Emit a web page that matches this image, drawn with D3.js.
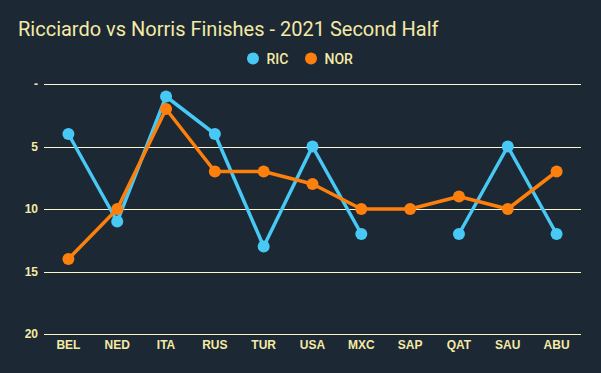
<!DOCTYPE html>
<html>
<head>
<meta charset="utf-8">
<script src="https://cdnjs.cloudflare.com/ajax/libs/d3/7.8.5/d3.min.js"></script>
<style>
  body { margin: 0; background: #1c2834; }
  svg { display: block; }
</style>
</head>
<body>
<div id="chart"></div>
<script>
var races = ["BEL", "NED", "ITA", "RUS", "TUR", "USA", "MXC", "SAP", "QAT", "SAU", "ABU"];
var ric = [4, 11, 1, 4, 13, 5, 12, null, 12, 5, 12];
var nor = [14, 10, 2, 7, 7, 8, 10, 10, 9, 10, 7];
var yTicks = [0, 5, 10, 15, 20];

var series = [
  { name: "RIC", color: "#48c8f4", values: ric },
  { name: "NOR", color: "#fd7f0c", values: nor }
];

var width = 601, height = 373;
var margin = { top: 84, left: 44, bottom: 39, right: 20 };
var textColor = "#f4eaa6";

var svg = d3.select("#chart").append("svg")
  .attr("width", width)
  .attr("height", height)
  .style("background", "#1c2834");

var x = d3.scaleBand()
  .domain(races)
  .range([margin.left, width - margin.right]);

var y = d3.scaleLinear()
  .domain([0, 20])
  .range([margin.top, height - margin.bottom]);

// gridlines + y labels
var yAxis = d3.axisLeft(y)
  .tickValues(yTicks)
  .tickSize(-(width - margin.left - margin.right))
  .tickPadding(6)
  .tickFormat(function(d) { return d === 0 ? "-" : d; });

var gy = svg.append("g")
  .attr("transform", "translate(" + margin.left + ",0)")
  .call(yAxis);
gy.select(".domain").remove();
gy.selectAll("line")
  .attr("stroke", "#fdf6cc")
  .attr("stroke-width", 1)
  .attr("shape-rendering", "crispEdges");
gy.selectAll("text")
  .attr("fill", textColor)
  .style("font-family", "'Liberation Sans', Arial, sans-serif")
  .style("font-weight", "bold")
  .style("font-size", "12px");

var xAxis = d3.axisBottom(x).tickSize(0).tickPadding(6);
var gx = svg.append("g")
  .attr("transform", "translate(0," + (height - margin.bottom) + ")")
  .call(xAxis);
gx.select(".domain").remove();
gx.selectAll("text")
  .attr("fill", textColor)
  .style("font-family", "'Liberation Sans', Arial, sans-serif")
  .style("font-weight", "bold")
  .style("font-size", "12px");

// lines
var line = d3.line()
  .defined(function(d) { return d != null; })
  .x(function(d, i) { return x(races[i]) + x.bandwidth() / 2; })
  .y(function(d) { return y(d); });

series.forEach(function(s) {
  svg.append("path")
    .datum(s.values)
    .attr("fill", "none")
    .attr("stroke", s.color)
    .attr("stroke-width", 3.5)
    .attr("stroke-linejoin", "round")
    .attr("d", line);

  svg.selectAll(".dot-" + s.name)
    .data(s.values.map(function(v, i) { return { v: v, race: races[i] }; })
      .filter(function(d) { return d.v != null; }))
    .enter()
    .append("circle")
    .attr("class", "dot-" + s.name)
    .attr("cx", function(d) { return x(d.race) + x.bandwidth() / 2; })
    .attr("cy", function(d) { return y(d.v); })
    .attr("r", 6)
    .attr("fill", s.color);
});

// title
svg.append("text")
  .attr("x", 18)
  .attr("y", 36)
  .attr("fill", textColor)
  .style("font-family", "Roboto, sans-serif")
  .style("font-size", "20px")
  .text("Ricciardo vs Norris Finishes - 2021 Second Half");

// legend
var legendX = [253, 311];
series.forEach(function(s, i) {
  svg.append("circle")
    .attr("cx", legendX[i])
    .attr("cy", 58.5)
    .attr("r", 6)
    .attr("fill", s.color);
  svg.append("text")
    .attr("x", legendX[i] + 13.5)
    .attr("y", 63.5)
    .attr("fill", textColor)
    .style("font-family", "Roboto, sans-serif")
    .style("font-weight", "500")
    .style("font-size", "14px")
    .text(s.name);
});
</script>
</body>
</html>
